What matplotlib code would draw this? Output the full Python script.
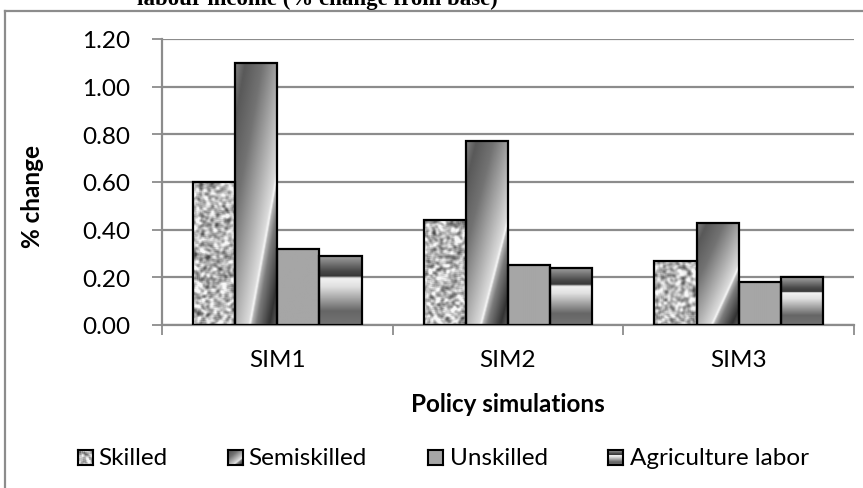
import numpy as np
import matplotlib
matplotlib.use("Agg")
import matplotlib.pyplot as plt
from matplotlib.lines import Line2D

categories = ["SIM1", "SIM2", "SIM3"]
series_names = ["Skilled", "Semiskilled", "Unskilled", "Agriculture labor"]
skilled = [0.60, 0.44, 0.27]
semiskilled = [1.10, 0.77, 0.43]
unskilled = [0.32, 0.25, 0.18]
agri = [0.29, 0.24, 0.20]
yticks = [0.0, 0.2, 0.4, 0.6, 0.8, 1.0, 1.2]

W, H = 863, 489
fig = plt.figure(figsize=(W / 100, H / 100), dpi=100)
FONT = ["Lato", "DejaVu Sans"]
FS = 17.5

ax_l, ax_r, ax_t, ax_b = 162, 854, 40, 326
ax = fig.add_axes([ax_l / W, 1 - ax_b / H, (ax_r - ax_l) / W, (ax_b - ax_t) / H])

# ---------- textures ----------
def granite(ny, nx, off=0.0):
    pad = 6
    i, j = np.mgrid[0:ny + 2 * pad, 0:nx + 2 * pad].astype(float)
    n = np.sin(i * 12.9898 + j * 78.233 + off) * 43758.5453
    n = n - np.floor(n)
    k = np.ones(3) / 3
    for _ in range(2):
        n = np.apply_along_axis(lambda r: np.convolve(r, k, mode="same"), 1, n)
        n = np.apply_along_axis(lambda c: np.convolve(c, k, mode="same"), 0, n)
    n = n[pad:pad + ny, pad:pad + nx]
    z = (n - n.mean()) / (n.std() + 1e-9)
    return np.clip(0.72 + 0.14 * z, 0.3, 0.97)

def semi(ny, nx):
    iy, jx = np.mgrid[0:ny, 0:nx].astype(float)
    u = (jx + 0.5) / nx
    v = 1 - (iy + 0.5) / ny
    ud = 0.35 + 1.1 * v
    d = ud - u
    left = np.interp(d, [0, 0.05, 0.3, 0.8, 1.2, 1.5], [0.98, 0.86, 0.72, 0.45, 0.35, 0.55])
    e = u - ud
    right = np.interp(e, [0, 0.04, 0.15, 0.45, 0.65], [0.98, 0.7, 0.48, 0.2, 0.4])
    return np.where(d >= 0, left, right)

def bands(ny, nx):
    iy, jx = np.mgrid[0:ny, 0:nx].astype(float)
    t = (iy + 0.5) / ny
    return np.interp(t, [0, 0.22, 0.3, 0.33, 0.45, 0.8, 1.0], [0.65, 0.3, 0.22, 0.95, 0.88, 0.4, 0.45])

def solid(ny, nx):
    return np.full((ny, nx), 0.65)

makers = [lambda a, b, k: granite(a, b, k * 3.1), lambda a, b, k: semi(a, b),
          lambda a, b, k: solid(a, b), lambda a, b, k: bands(a, b)]

series = [skilled, semiskilled, unskilled, agri]
x = np.arange(len(categories)) + 0.5
bw = 0.1826
px_per_x = (ax_r - ax_l) / 3
px_per_y = (ax_b - ax_t) / 1.2

for s, vals in enumerate(series):
    xs = x + (s - 1.5) * bw
    for k, (xc, val) in enumerate(zip(xs, vals)):
        ny = max(2, int(round(val * px_per_y)))
        nx = max(2, int(round(bw * px_per_x)))
        img = makers[s](ny, nx, k)
        ax.imshow(img, extent=(xc - bw / 2, xc + bw / 2, 0, val), origin="upper",
                  aspect="auto", cmap="gray", vmin=0, vmax=1,
                  interpolation="bilinear", zorder=2)
    ax.bar(xs, vals, width=bw, facecolor="none", edgecolor="black", linewidth=1.6, zorder=3)

ax.set_xlim(0, 3)
ax.set_ylim(0, 1.2)
ax.set_yticks(yticks)
ax.set_yticklabels([f"{t:.2f}" for t in yticks], fontsize=FS, family=FONT)
ax.yaxis.grid(True, color="#8c8c8c", linewidth=1.6, zorder=0)
ax.set_axisbelow(True)
ax.set_xticks([0, 1, 2, 3])
ax.set_xticklabels([])
ax.set_xticks(x, minor=True)
ax.set_xticklabels(categories, minor=True, fontsize=FS, family=FONT)
ax.tick_params(axis="x", which="major", length=7, width=1.3, color="#8c8c8c", direction="out")
ax.tick_params(axis="x", which="minor", length=0, pad=17)
ax.tick_params(axis="y", length=7, width=1.3, color="#8c8c8c", direction="out", pad=16)
for sp in ["top", "right"]:
    ax.spines[sp].set_visible(False)
for sp in ["left", "bottom"]:
    ax.spines[sp].set_color("#8c8c8c")
    ax.spines[sp].set_linewidth(1.6)

# axis titles
fig.text(32 / W, 1 - 197 / H, "% change", rotation=90, ha="center", va="center",
         fontsize=FS, fontweight="bold", family=FONT)
fig.text(508 / W, 1 - 405 / H, "Policy simulations", ha="center", va="center",
         fontsize=FS, fontweight="bold", family=FONT)

# title (cut at top, as in the reference)
fig.text(137 / W, 1 - 5 / H, "labour income (% change from base)", ha="left", va="baseline",
         fontsize=16.5, fontweight="bold", family=["Liberation Serif", "DejaVu Serif"])

# chart border
fig.add_artist(Line2D([5 / W, 5 / W], [0, 1 - 12 / H], transform=fig.transFigure,
                      color="#8c8c8c", linewidth=1.6))
fig.add_artist(Line2D([5 / W, 1], [1 - 12 / H, 1 - 12 / H], transform=fig.transFigure,
                      color="#8c8c8c", linewidth=1.6))

# legend
box_lefts = [78, 228, 428, 608]
text_lefts = [98, 248, 450, 630]
yc = 458.5
bs = 15
for s, name in enumerate(series_names):
    lax = fig.add_axes([box_lefts[s] / W, 1 - (yc + bs / 2) / H, bs / W, bs / H])
    lax.imshow(makers[s](bs, bs, 7), cmap="gray", vmin=0, vmax=1, aspect="auto",
               interpolation="bilinear")
    lax.set_xticks([]); lax.set_yticks([])
    for sp in lax.spines.values():
        sp.set_linewidth(1.5)
        sp.set_color("black")
    fig.text(text_lefts[s] / W, 1 - yc / H, name, ha="left", va="center",
             fontsize=FS, family=FONT)

fig.savefig("out.png", dpi=100)
